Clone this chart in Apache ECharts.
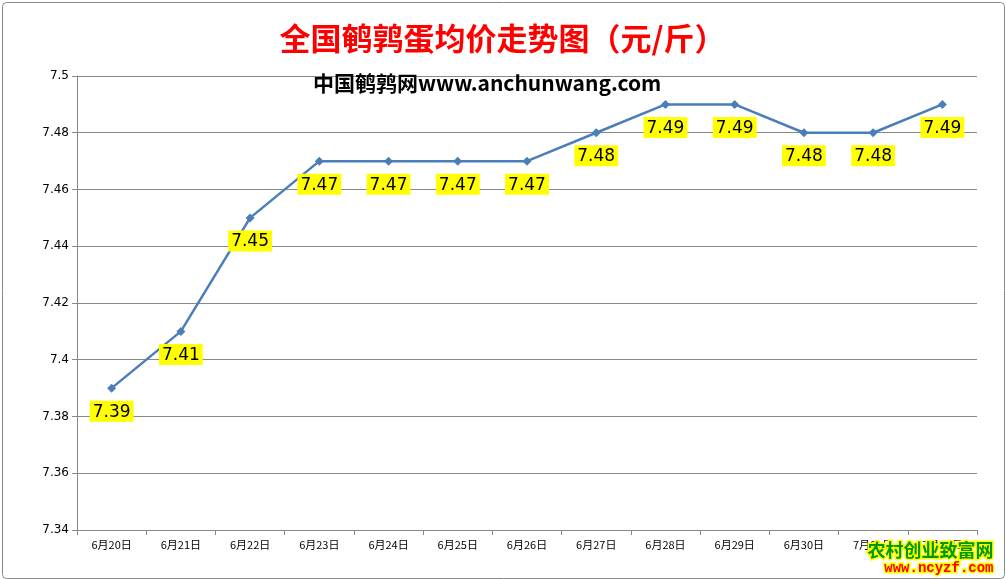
<!DOCTYPE html><html><head><meta charset="utf-8"><script src="https://cdn.jsdelivr.net/npm/echarts@6/dist/echarts.min.js"></script>
<style>html,body{margin:0;padding:0;background:#fff}#c{width:1005px;height:579px}</style></head><body><div id="c"></div>
<script>
const categories=['6月20日','6月21日','6月22日','6月23日','6月24日','6月25日','6月26日','6月27日','6月28日','6月29日','6月30日','7月01日','7月02日'];
const prices=[7.39,7.41,7.45,7.47,7.47,7.47,7.47,7.48,7.49,7.49,7.48,7.48,7.49];
const chart=echarts.init(document.getElementById('c'));
chart.setOption({
 animation:false,
 title:{text:'全国鹌鹑蛋均价走势图（元/斤）',left:'center',top:18,textStyle:{color:'#ff0000',fontSize:31,fontWeight:'bold',fontFamily:'Noto Sans CJK SC'}},
 grid:{left:77,right:28,top:76,bottom:49},
 xAxis:{type:'category',data:categories,boundaryGap:true,
  axisLine:{lineStyle:{color:'#888'}},axisTick:{show:true,inside:false,length:5,lineStyle:{color:'#888'}},
  axisLabel:{color:'#000',fontSize:11,fontFamily:'Noto Sans CJK SC',margin:9}},
 yAxis:{type:'value',min:7.34,max:7.5,interval:0.02,
  axisLine:{show:true,lineStyle:{color:'#888'}},axisTick:{show:true,length:5,lineStyle:{color:'#888'}},
  splitLine:{lineStyle:{color:'#888'}},
  axisLabel:{color:'#000',fontSize:12,fontFamily:'Verdana, DejaVu Sans',formatter:v=>String(+v.toFixed(2)),margin:8}},
 series:[{type:'line',data:prices,symbol:'diamond',symbolSize:9,
  lineStyle:{color:'#4a7ebb',width:2.5},itemStyle:{color:'#4a7ebb'},
  label:{show:true,position:'bottom',distance:8,fontSize:17,color:'#000',backgroundColor:'#ffff00',padding:[3,3,1,3],fontFamily:'DejaVu Sans',formatter:p=>p.value.toFixed(2)}}],
 graphic:[
  {type:'rect',left:0,top:0,shape:{x:1,y:1,width:1002,height:576,r:4},style:{fill:'none',stroke:'#888',lineWidth:1},silent:true},
  {type:'text',left:313,top:73,z:100,style:{text:'中国鹌鹑网www.anchunwang.com',font:'bold 21px "Noto Sans CJK SC", "Liberation Serif", serif',fill:'#000'}},
  {type:'text',right:10,top:540,z:100,style:{text:'农村创业致富网',font:'bold 18px "Noto Sans CJK SC"',fill:'#009900',stroke:'#ffff00',lineWidth:3}},
  {type:'text',right:10,top:560,z:100,style:{text:'www.ncyzf.com',font:'bold 14px "Liberation Mono", monospace',fill:'#ff0000',stroke:'#ffff00',lineWidth:3}}
 ]
});
</script></body></html>
